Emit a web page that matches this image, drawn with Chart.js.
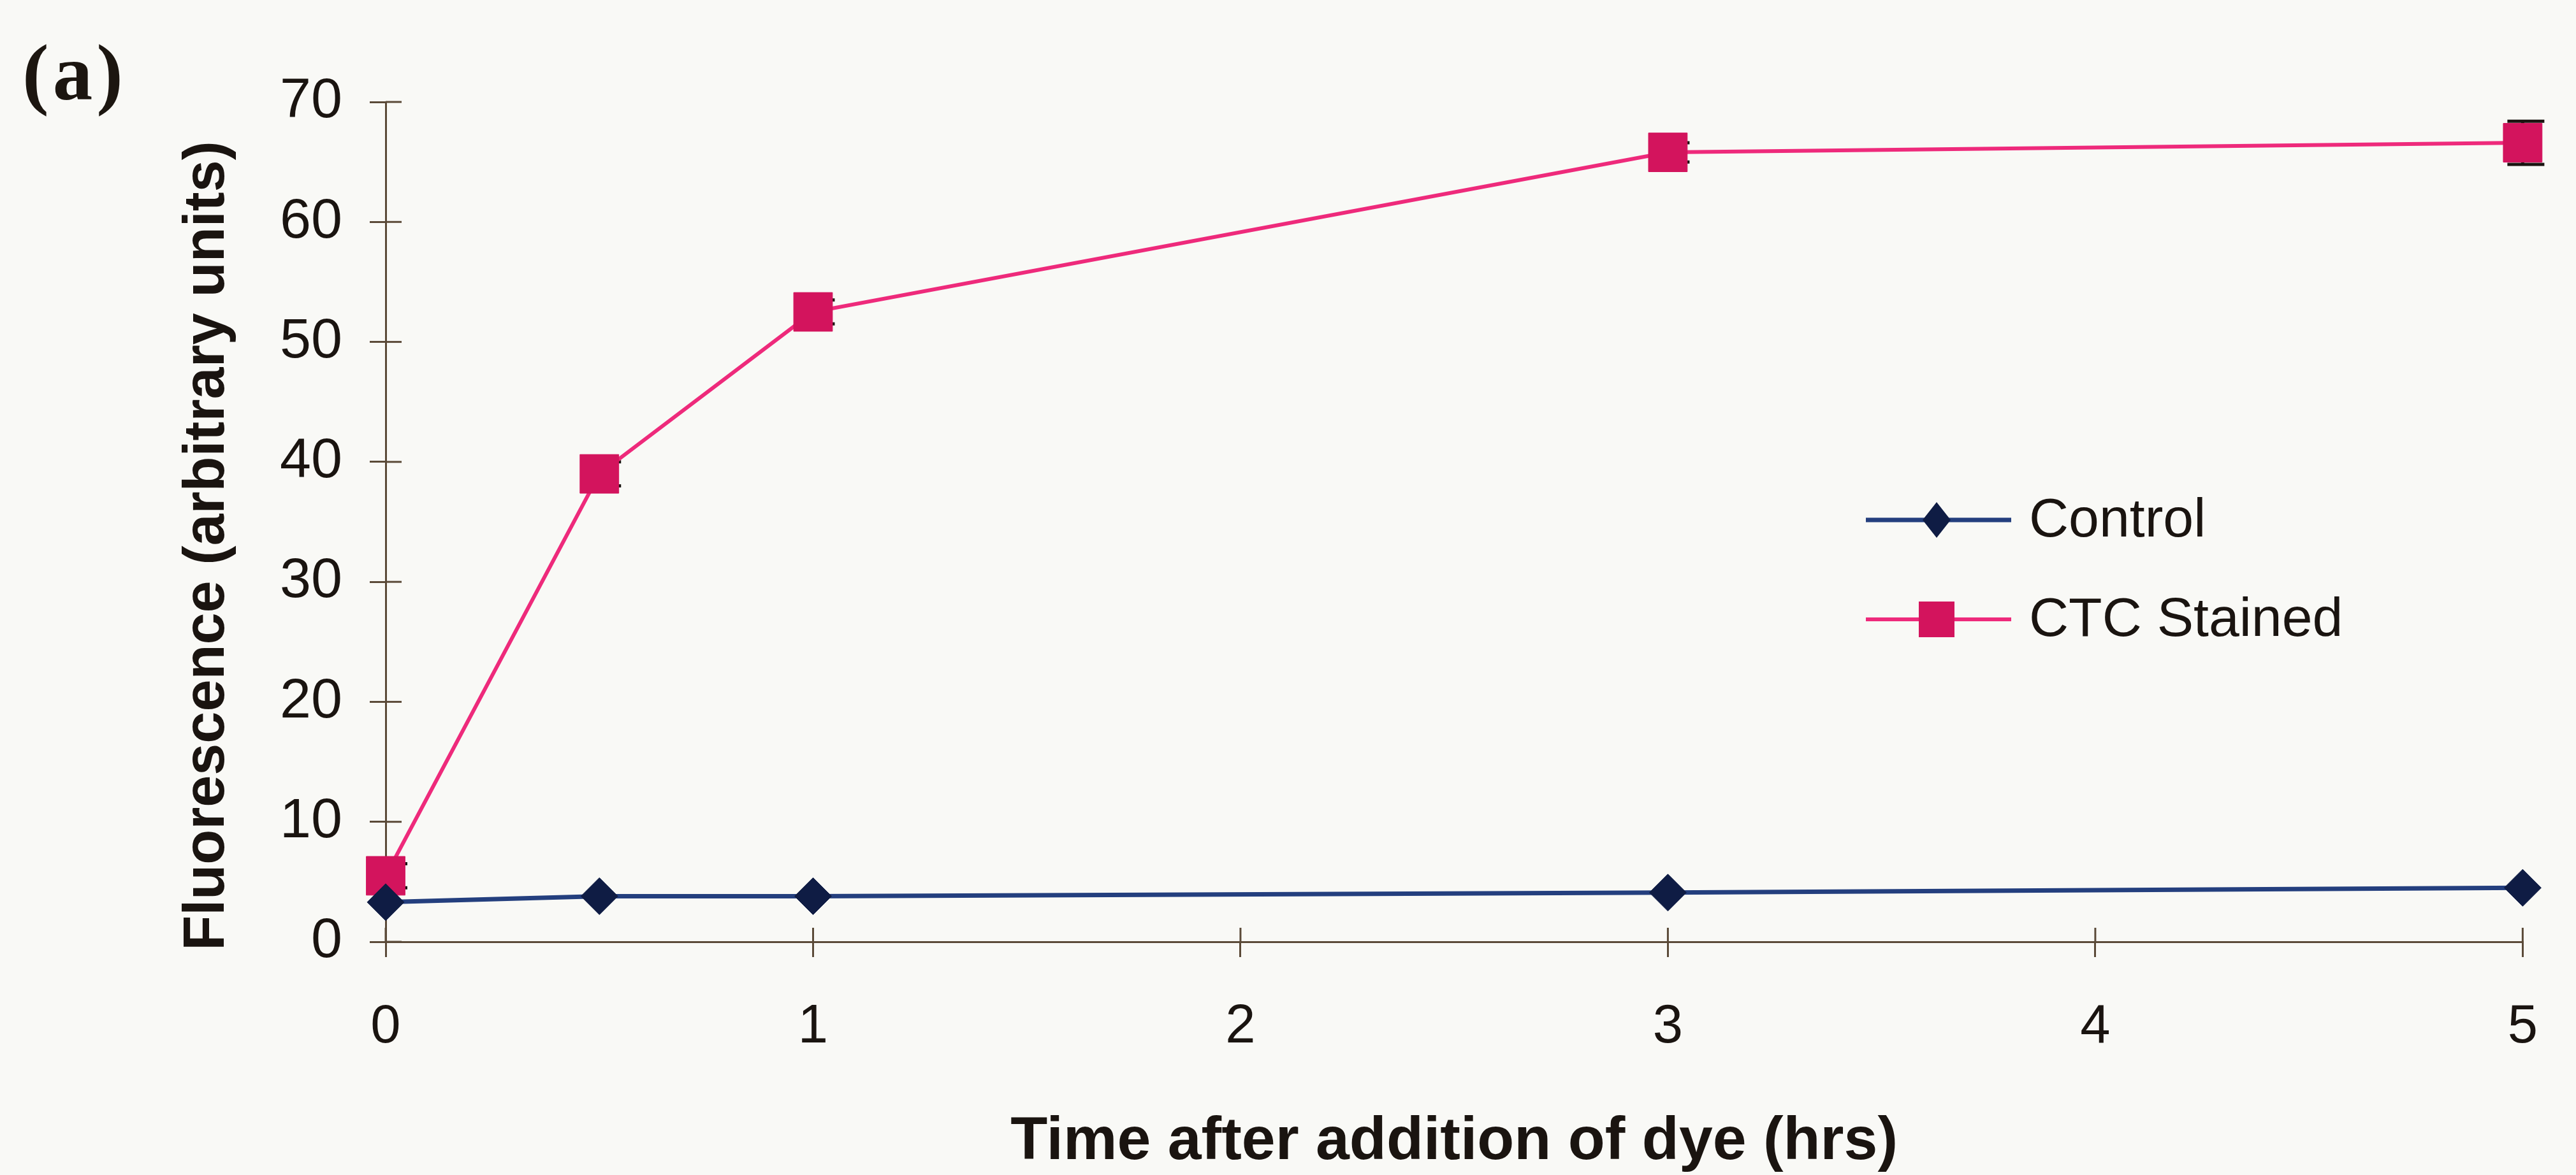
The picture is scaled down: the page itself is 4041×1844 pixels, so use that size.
<!DOCTYPE html>
<html>
<head>
<meta charset="utf-8">
<script src="https://cdn.jsdelivr.net/npm/chart.js@4.4.1/dist/chart.umd.min.js"></script>
<style>
    html, body { margin: 0; padding: 0; background: #f9f9f6; }
    #wrap { position: relative; width: 4041px; height: 1844px; }
    #panel {
        position: absolute; left: 35px; top: 52px;
        font: bold 125px "Liberation Serif", "Times New Roman", serif;
        letter-spacing: 6px; line-height: 1; color: #1c1610;
    }
</style>
</head>
<body>
<div id="wrap">
    <canvas id="fig" width="4041" height="1844"></canvas>
    <div id="panel">(a)</div>
</div>
<script>
// ---- valores ----
const hours = [0, 0.5, 1, 3, 5];
const controlValues = [3.3, 3.8, 3.8, 4.1, 4.5];
const ctcValues = [5.5, 39.0, 52.5, 65.8, 66.6];
const ctcErrors = [1.0, 1.0, 1.0, 0.8, 1.8];
const seriesNames = ['Control', 'CTC Stained'];
const xTickValues = [0, 1, 2, 3, 4, 5];
const yTickValues = [0, 10, 20, 30, 40, 50, 60, 70];
const xTitle = 'Time after addition of dye (hrs)';
const yTitle = 'Fluorescence (arbitrary units)   ';

const axisColor = '#5b4a38';
const textColor = '#1a1410';
const navyLine = '#243f7e';
const navyMarker = '#0f1c44';
const pinkLine = '#ee2a7b';
const pinkMarker = '#d3145d';
const fontFamily = '"Liberation Sans", Arial, Helvetica, sans-serif';

// barras de erro (ficam por baixo dos marcadores)
const errorBars = {
    id: 'errorBars',
    beforeDatasetsDraw(chart) {
        const { ctx, scales } = chart;
        ctx.save();
        ctx.strokeStyle = textColor;
        ctx.lineWidth = 5;
        hours.forEach((h, i) => {
            const px = scales.x.getPixelForValue(h);
            const top = scales.y.getPixelForValue(ctcValues[i] + ctcErrors[i]);
            const bot = scales.y.getPixelForValue(ctcValues[i] - ctcErrors[i]);
            ctx.beginPath();
            ctx.moveTo(px, top); ctx.lineTo(px, bot);
            ctx.moveTo(px - 24, top); ctx.lineTo(px + 34, top);
            ctx.moveTo(px - 24, bot); ctx.lineTo(px + 34, bot);
            ctx.stroke();
        });
        ctx.restore();
    }
};

// marcas que cruzam o eixo (parte de dentro)
const innerTicks = {
    id: 'innerTicks',
    beforeDatasetsDraw(chart) {
        const { ctx, chartArea, scales } = chart;
        ctx.save();
        ctx.strokeStyle = axisColor;
        ctx.lineWidth = 3;
        scales.y.ticks.forEach(t => {
            const py = scales.y.getPixelForValue(t.value);
            ctx.beginPath();
            ctx.moveTo(chartArea.left, py);
            ctx.lineTo(chartArea.left + 25, py);
            ctx.stroke();
        });
        scales.x.ticks.forEach(t => {
            const px = scales.x.getPixelForValue(t.value);
            ctx.beginPath();
            ctx.moveTo(px, chartArea.bottom);
            ctx.lineTo(px, chartArea.bottom - 22);
            ctx.stroke();
        });
        ctx.restore();
    }
};

// legenda dentro da área do gráfico
const insideLegend = {
    id: 'insideLegend',
    afterDraw(chart) {
        const ctx = chart.ctx;
        const lineStart = 2927, lineEnd = 3155, markX = 3038, textX = 3183;
        const rowsY = [816, 972];
        ctx.save();
        chart.data.datasets.forEach((ds, i) => {
            const y = rowsY[i];
            ctx.strokeStyle = ds.borderColor;
            ctx.lineWidth = ds.borderWidth;
            ctx.beginPath();
            ctx.moveTo(lineStart, y);
            ctx.lineTo(lineEnd, y);
            ctx.stroke();
            ctx.fillStyle = ds.pointBackgroundColor;
            ctx.beginPath();
            if (ds.pointStyle === 'rectRot') {
                ctx.moveTo(markX - 22, y);
                ctx.lineTo(markX, y - 28);
                ctx.lineTo(markX + 22, y);
                ctx.lineTo(markX, y + 28);
                ctx.closePath();
            } else {
                ctx.rect(markX - 28, y - 28, 56, 56);
            }
            ctx.fill();
            ctx.fillStyle = textColor;
            ctx.font = '86px ' + fontFamily;
            ctx.textAlign = 'left';
            ctx.textBaseline = 'middle';
            ctx.fillText(ds.label, textX, y + 2);
        });
        ctx.restore();
    }
};

function buildChart() {
    const ctx = document.getElementById('fig').getContext('2d');
    return new Chart(ctx, {
        type: 'line',
        data: {
            datasets: [
                {
                    label: seriesNames[0],
                    data: hours.map((h, i) => ({ x: h, y: controlValues[i] })),
                    borderColor: navyLine,
                    borderWidth: 7,
                    pointStyle: 'rectRot',
                    pointRadius: 29,
                    pointBackgroundColor: navyMarker,
                    pointBorderColor: navyMarker,
                    pointBorderWidth: 1,
                    tension: 0,
                    clip: false
                },
                {
                    label: seriesNames[1],
                    data: hours.map((h, i) => ({ x: h, y: ctcValues[i] })),
                    borderColor: pinkLine,
                    borderWidth: 6,
                    pointStyle: 'rect',
                    pointRadius: 43,
                    pointBackgroundColor: pinkMarker,
                    pointBorderColor: pinkMarker,
                    pointBorderWidth: 1,
                    tension: 0,
                    clip: false
                }
            ]
        },
        options: {
            responsive: false,
            animation: false,
            events: [],
            layout: { padding: { top: 160, right: 42, bottom: 0, left: 0 } },
            plugins: { legend: { display: false }, tooltip: { enabled: false } },
            scales: {
                x: {
                    type: 'linear', min: 0, max: 5,
                    afterBuildTicks: s => { s.ticks = xTickValues.map(v => ({ value: v })); },
                    afterFit: s => { s.height = 366; },
                    grid: { drawOnChartArea: false, tickLength: 24, color: axisColor, lineWidth: 3 },
                    border: { display: true, color: axisColor, width: 3 },
                    ticks: { color: textColor, font: { family: fontFamily, size: 85 }, padding: 60, maxRotation: 0, autoSkip: false },
                    title: {
                        display: true, text: xTitle, color: textColor,
                        font: { family: fontFamily, size: 95, weight: 'bold', lineHeight: 1 },
                        padding: { top: 0, bottom: 4 }
                    }
                },
                y: {
                    type: 'linear', min: 0, max: 70,
                    afterBuildTicks: s => { s.ticks = yTickValues.map(v => ({ value: v })); },
                    afterFit: s => { s.width = 605; },
                    grid: { drawOnChartArea: false, tickLength: 25, color: axisColor, lineWidth: 3 },
                    border: { display: true, color: axisColor, width: 3 },
                    ticks: { color: textColor, font: { family: fontFamily, size: 88 }, padding: 43, autoSkip: false },
                    title: {
                        display: true, text: yTitle, color: textColor,
                        font: { family: fontFamily, size: 90, weight: 'bold', lineHeight: 1.2 },
                        padding: { top: 272, bottom: 0 }
                    }
                }
            }
        },
        plugins: [innerTicks, errorBars, insideLegend]
    });
}

buildChart();
</script>
</body>
</html>
